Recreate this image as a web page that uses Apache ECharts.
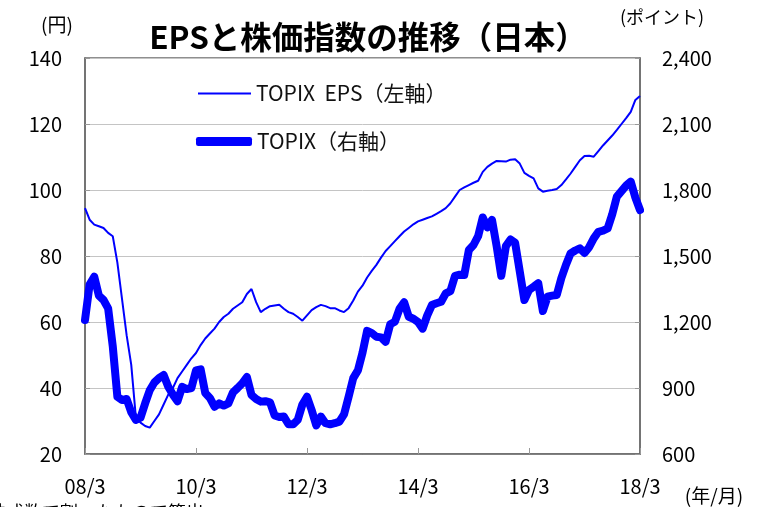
<!DOCTYPE html>
<html>
<head>
<meta charset="utf-8">
<script src="https://cdn.jsdelivr.net/npm/echarts@6/dist/echarts.min.js"></script>
<style>
html,body{margin:0;padding:0;background:#fff;}
#c{width:763px;height:507px;}
</style>
</head>
<body>
<div id="c"></div>
<script>
// Monthly categories 2008/3 .. 2018/3
var categories = [];
for (var y = 8; y <= 18; y++) {
  for (var m = 1; m <= 12; m++) {
    if ((y === 8 && m < 3) || (y === 18 && m > 3)) continue;
    categories.push((y < 10 ? '0' + y : '' + y) + '/' + m);
  }
}

var epsName = 'TOPIX  EPS（左軸）';
var topixName = 'TOPIX（右軸）';

// TOPIX EPS (円, left axis)
var epsValues = [
  94.5, 91, 89.5, 89, 88.5, 87, 86, 78, 67, 56,
  47, 31, 29.5, 28.5, 28, 30, 32, 35, 38, 40,
  43, 45, 47, 49, 50.6, 53, 55, 56.5, 58, 60,
  61.5, 62.5, 64, 65, 66, 68.5, 70, 66, 63, 64,
  64.8, 65, 65.2, 64, 63, 62.5, 61.5, 60.4, 62, 63.6,
  64.5, 65.2, 64.8, 64.2, 64.2, 63.5, 63, 64.2, 66.5, 69.2,
  71, 73.5, 75.5, 77.3, 79.5, 81.5, 83, 84.5, 86, 87.4,
  88.5, 89.6, 90.5, 91, 91.5, 92, 92.8, 93.6, 94.5, 96,
  98, 100, 100.8, 101.5, 102.2, 102.8, 105.5, 107, 108, 108.8,
  108.7, 108.6, 109.2, 109.3, 108, 105.2, 104.3, 103.5, 100.5, 99.5,
  99.8, 100, 100.3, 101.5, 103.2, 105, 107, 109, 110.3, 110.4,
  110.1, 111.8, 113.5, 115, 116.5, 118.2, 120, 121.8, 123.7, 127.3,
  128.5
];

// TOPIX (ポイント, right axis)
var topixValues = [
  1209, 1370, 1406, 1320, 1300, 1262, 1090, 860, 845, 850,
  790, 755, 765, 830, 890, 925, 945, 959, 906, 870,
  840, 905, 895, 900, 980, 985, 877, 855, 815, 830,
  820, 830, 880, 900, 921, 950, 868, 850, 838, 840,
  835, 775, 768, 770, 735, 735, 755, 825, 860, 800,
  730, 770, 740, 735, 740, 747, 780, 860, 945, 980,
  1060, 1160, 1150, 1133, 1130, 1110, 1190, 1201, 1260, 1290,
  1224, 1215, 1200, 1170, 1230, 1277, 1285, 1292, 1330, 1340,
  1410, 1415, 1414, 1527, 1550, 1590, 1675, 1630, 1664, 1545,
  1410, 1545, 1575, 1560, 1430, 1300, 1345, 1360, 1376, 1250,
  1315, 1320, 1323, 1400, 1460, 1512, 1525, 1535, 1514, 1540,
  1580, 1610, 1615, 1625, 1690, 1770, 1795, 1820, 1838, 1765,
  1709
];

var leftTicks = [20, 40, 60, 80, 100, 120, 140];
var rightTicks = [600, 900, 1200, 1500, 1800, 2100, 2400];

var FONT = '"Noto Sans CJK JP", "Noto Sans", sans-serif';
var BLUE = '#0000FF';
var AXIS = '#6b6b6b';

var chart = echarts.init(document.getElementById('c'), null, {renderer: 'canvas'});
chart.setOption({
  animation: false,
  backgroundColor: '#ffffff',
  textStyle: {fontFamily: FONT},
  grid: {left: 85, right: 123, top: 58, bottom: 53, show: true, borderColor: AXIS, borderWidth: 1.5, backgroundColor: 'transparent'},
  legend: [
    {
      data: [epsName], left: 198, top: 83, padding: 0, icon: 'rect', itemWidth: 53, itemHeight: 2,
      textStyle: {fontFamily: FONT, fontSize: 21, color: '#111'}, selectedMode: false
    },
    {
      data: [topixName], left: 196, top: 131, padding: 0, icon: 'roundRect', itemWidth: 56, itemHeight: 9,
      textStyle: {fontFamily: FONT, fontSize: 21, color: '#111'}, selectedMode: false
    }
  ],
  xAxis: {
    type: 'category',
    data: categories,
    boundaryGap: false,
    axisLine: {show: true, lineStyle: {color: AXIS, width: 1.5}},
    axisTick: {show: true, inside: true, interval: 23, length: 6, lineStyle: {color: '#999'}},
    axisLabel: {interval: 23, margin: 22, fontSize: 20, color: '#000', fontFamily: FONT},
    splitLine: {show: false}
  },
  yAxis: [
    {
      type: 'value', min: 20, max: 140, interval: 20, position: 'left',
      axisLine: {show: true, lineStyle: {color: AXIS, width: 1.5}},
      axisTick: {show: true, inside: true, length: 5, lineStyle: {color: '#999'}},
      axisLabel: {margin: 23, fontSize: 20, color: '#000', fontFamily: FONT,
        formatter: function (v) { return leftTicks.indexOf(v) >= 0 ? String(v) : ''; }},
      splitLine: {show: true, lineStyle: {color: '#c4c4c4', width: 1}}
    },
    {
      type: 'value', min: 600, max: 2400, interval: 300, position: 'right',
      axisLine: {show: true, lineStyle: {color: AXIS, width: 1.5}},
      axisTick: {show: true, inside: true, length: 5, lineStyle: {color: '#999'}},
      axisLabel: {margin: 22, fontSize: 20, color: '#000', fontFamily: FONT,
        formatter: function (v) { return rightTicks.indexOf(v) >= 0 ? v.toLocaleString('en-US') : ''; }},
      splitLine: {show: false}
    }
  ],
  series: [
    {
      name: topixName, type: 'line', yAxisIndex: 1, data: topixValues,
      showSymbol: false, symbol: 'none',
      lineStyle: {color: BLUE, width: 8, cap: 'round', join: 'round'},
      itemStyle: {color: BLUE}, z: 2
    },
    {
      name: epsName, type: 'line', yAxisIndex: 0, data: epsValues,
      showSymbol: false, symbol: 'none',
      lineStyle: {color: BLUE, width: 2},
      itemStyle: {color: BLUE}, z: 3
    }
  ],
  graphic: [
    {type: 'text', x: 368, y: 37, style: {text: 'EPSと株価指数の推移（日本）', font: 'bold 31.5px ' + FONT, fill: '#000', align: 'center', verticalAlign: 'middle'}},
    {type: 'text', x: 57, y: 25, style: {text: '(円)', font: '19px ' + FONT, fill: '#000', align: 'center', verticalAlign: 'middle'}},
    {type: 'text', x: 662, y: 17, style: {text: '(ポイント)', font: '18px ' + FONT, fill: '#000', align: 'center', verticalAlign: 'middle'}},
    {type: 'text', x: 714, y: 496, style: {text: '(年/月)', font: '19px ' + FONT, fill: '#000', align: 'center', verticalAlign: 'middle'}},
    {type: 'text', x: -12, y: 503, style: {text: '株式数で割ったもので算出', font: '18px ' + FONT, fill: '#000', align: 'left', verticalAlign: 'top'}}
  ]
});
</script>
</body>
</html>
